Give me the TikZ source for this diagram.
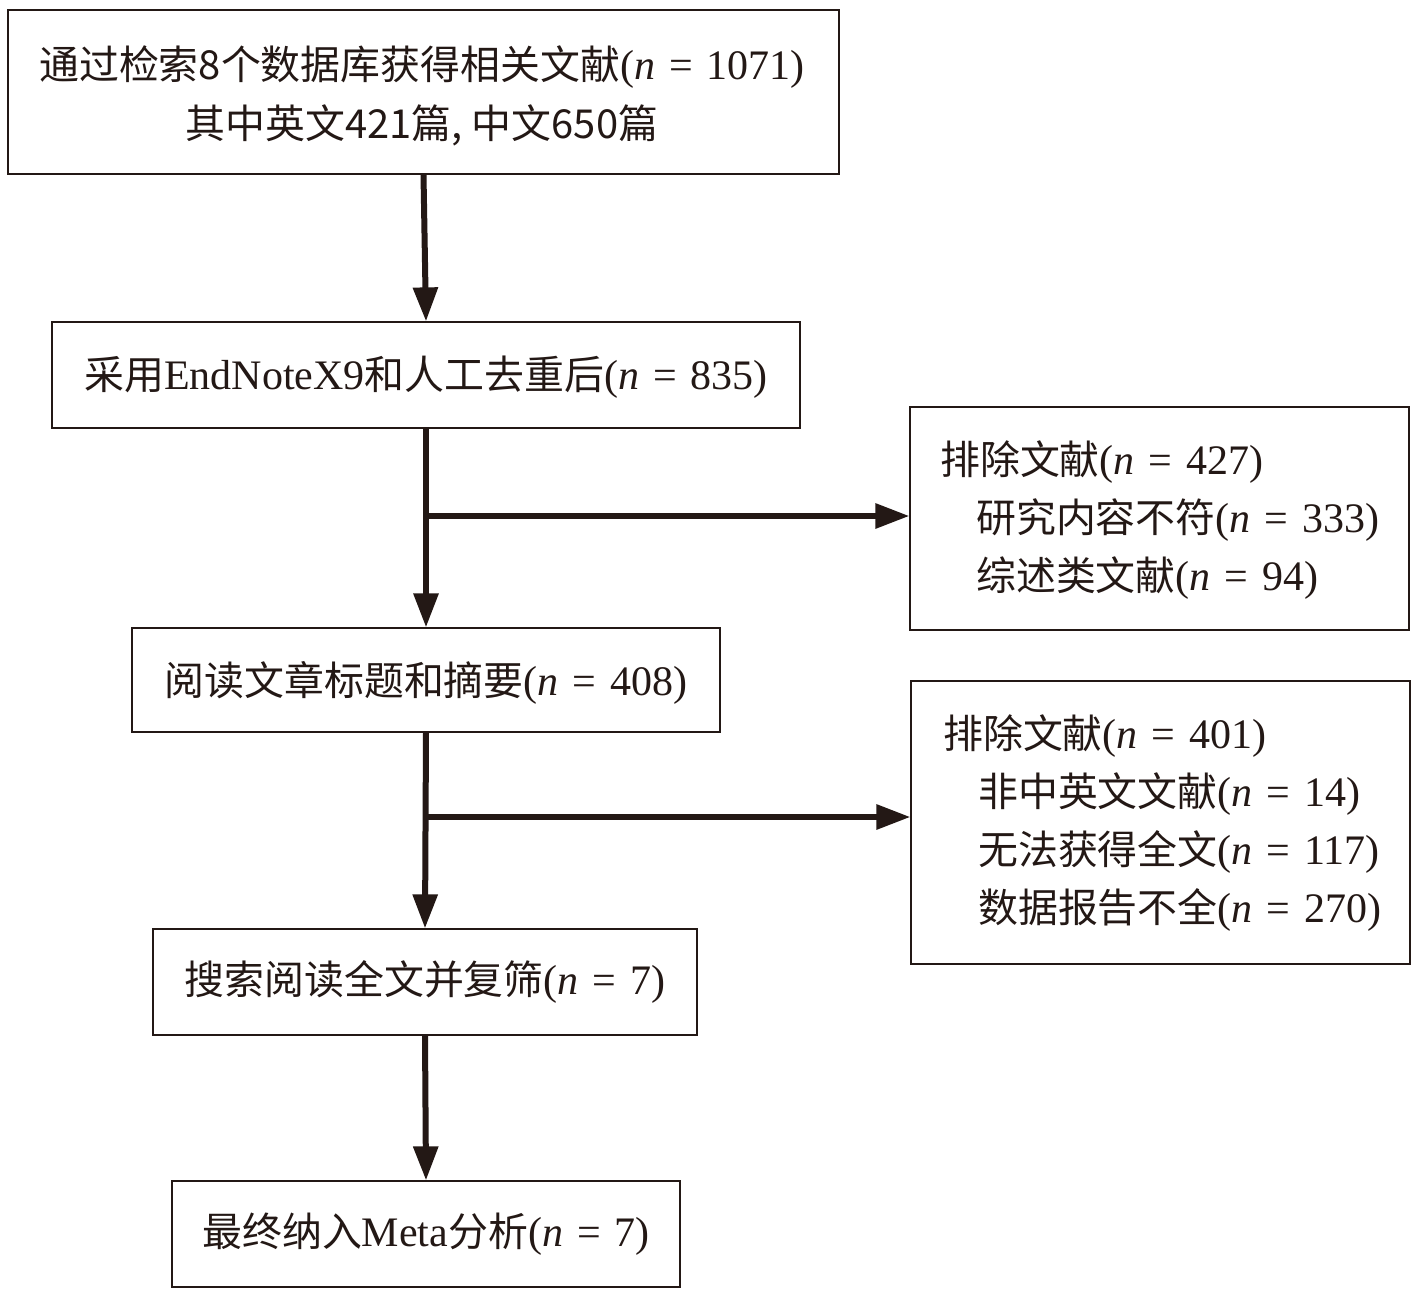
\documentclass[tikz,border=0pt]{standalone}
\usepackage{fontspec}
\setmainfont{Liberation Serif}
\newfontfamily\cjk{Noto Sans CJK SC}[Scale=0.95]
\usetikzlibrary{arrows.meta}
\newcommand{\zh}[1]{{\cjk #1}}
\newcommand{\nn}[1]{(\textit{n}\,\,=\,\,#1)}
\definecolor{ink}{HTML}{231815}
\begin{document}
\begin{tikzpicture}[x=1pt,y=-1pt,
  box/.style={draw=ink,line width=1.2pt,inner sep=0pt},
  txt/.style={font=\fontsize{42}{46}\selectfont,text=ink,inner sep=0pt},
  arr/.style={draw=ink,line width=6pt,-{Triangle[length=34pt,width=24pt]}}]
\useasboundingbox (0,0) rectangle (1417,1306);
\fill[white] (0,0) rectangle (1417,1306);
\node[box,minimum width=831pt,minimum height=164pt] (b1) at (423.5,92) {};
\node[box,minimum width=748pt,minimum height=106pt] (b2) at (426,375) {};
\node[box,minimum width=499pt,minimum height=223pt] (b3) at (1159.5,518.5) {};
\node[box,minimum width=588pt,minimum height=104pt] (b4) at (426,680) {};
\node[box,minimum width=499pt,minimum height=283pt] (b5) at (1160.5,822.5) {};
\node[box,minimum width=544pt,minimum height=106pt] (b6) at (425,982) {};
\node[box,minimum width=508pt,minimum height=106pt] (b7) at (426,1234) {};
\node[txt] (t1a) at (422,67) {\zh{通过检索8个数据库获得相关文献}\nn{1071}};
\node[txt] (t1b) at (422,125) {\zh{其中英文421篇, 中文650篇}};
\node[txt] (t2) at (426,377) {\zh{采用}EndNoteX9\zh{和人工去重后}\nn{835}};
\node[txt,anchor=west] (t3a) at (940,462) {\zh{排除文献}\nn{427}};
\node[txt,anchor=west] (t3b) at (976,520) {\zh{研究内容不符}\nn{333}};
\node[txt,anchor=west] (t3c) at (976,578) {\zh{综述类文献}\nn{94}};
\node[txt] (t4) at (426,683) {\zh{阅读文章标题和摘要}\nn{408}};
\node[txt,anchor=west] (t5a) at (943,736) {\zh{排除文献}\nn{401}};
\node[txt,anchor=west] (t5b) at (978,794) {\zh{非中英文文献}\nn{14}};
\node[txt,anchor=west] (t5c) at (978,852) {\zh{无法获得全文}\nn{117}};
\node[txt,anchor=west] (t5d) at (978,910) {\zh{数据报告不全}\nn{270}};
\node[txt] (t6) at (425,982) {\zh{搜索阅读全文并复筛}\nn{7}};
\node[txt] (t7) at (426,1234) {\zh{最终纳入}Meta\zh{分析}\nn{7}};
\coordinate (c1) at (426,516);
\coordinate (c2) at (426,817);
\draw[arr] (b1.south) -- (b2.north);
\draw[arr] (b2.south) -- (b4.north);
\draw[arr] (b4.south) -- (b6.north);
\draw[arr] (b6.south) -- (b7.north);
\draw[arr] ([xshift=-3pt]c1) -- (c1 -| b3.west);
\draw[arr] ([xshift=-3pt]c2) -- (c2 -| b5.west);
\end{tikzpicture}
\end{document}
